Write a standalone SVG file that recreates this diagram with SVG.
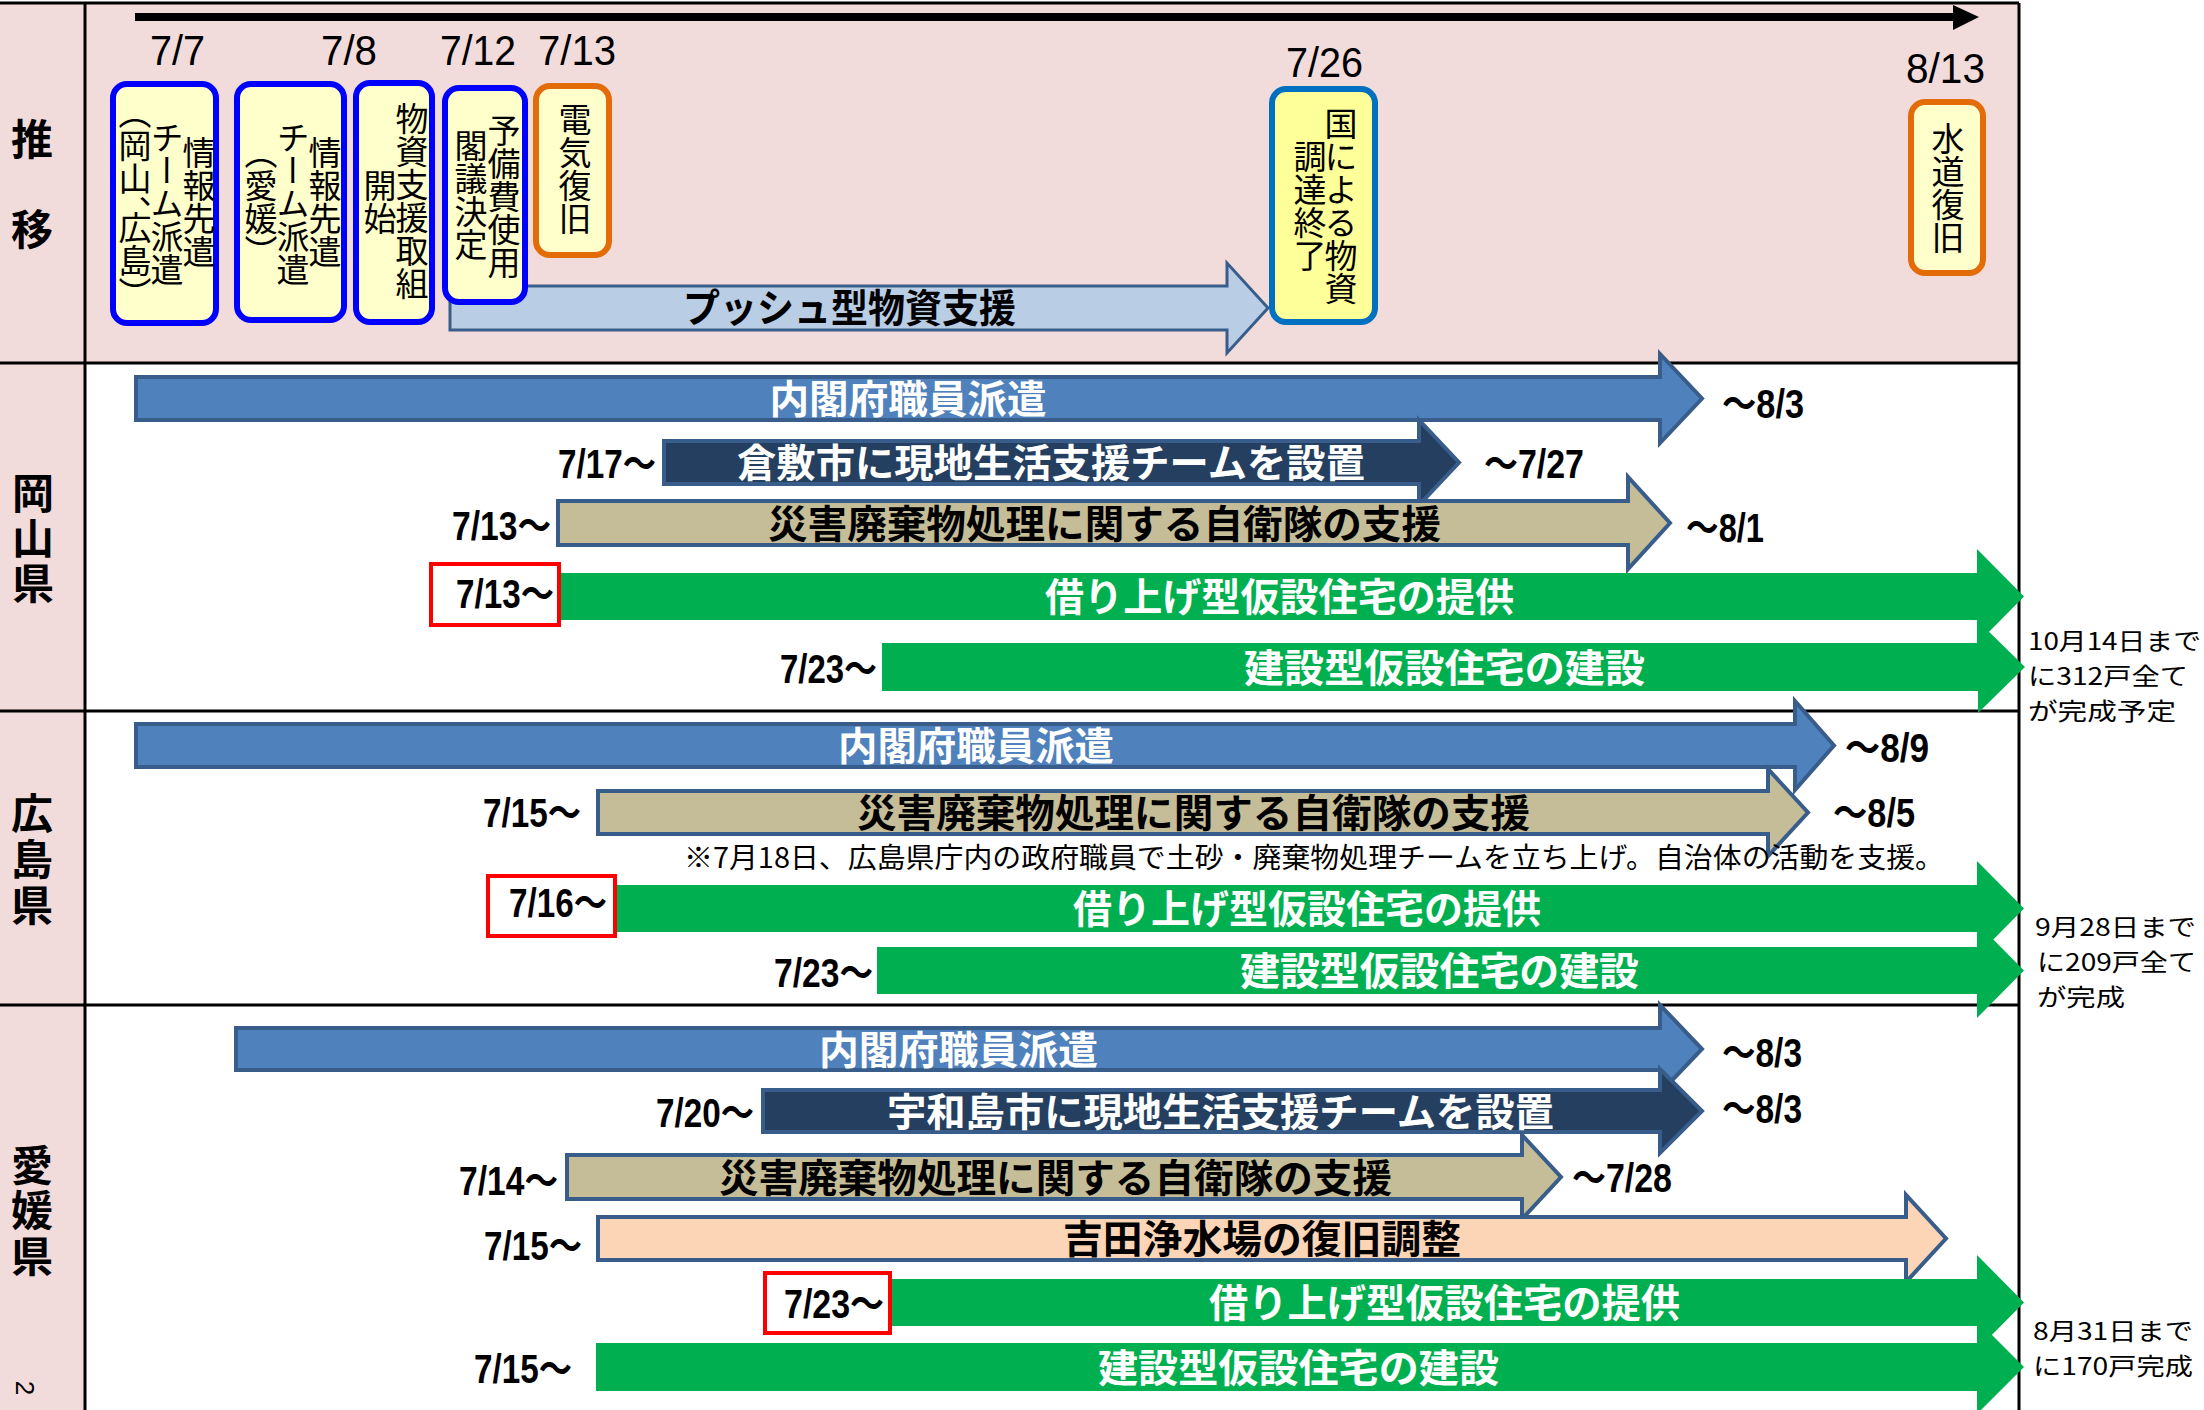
<svg xmlns="http://www.w3.org/2000/svg" width="2204" height="1410" viewBox="0 0 2204 1410">
<style>
.jp{font-family:"Noto Sans CJK JP","Noto Sans CJK SC",sans-serif}
.dt{font-family:"Liberation Sans Narrow","Liberation Sans","Noto Sans CJK JP",sans-serif}
.bd{font-family:"Liberation Sans Narrow","Liberation Sans","Noto Sans CJK JP",sans-serif;font-weight:bold;font-size:40px}
.line{stroke:#000;stroke-width:3;fill:none}
.vt{font-family:"Noto Sans CJK JP",sans-serif;font-size:33px;writing-mode:vertical-rl;text-anchor:middle}
.half{font-feature-settings:"vhal"}
.bx{fill:#FFFFCC;stroke:#0000FF;stroke-width:6}
.bxo{fill:#FFFFCC;stroke:#E36C09;stroke-width:6}
.bxc{fill:#FFFF99;stroke:#0070C0;stroke-width:6}
.ab{fill:#4F81BD;stroke:#385D8A;stroke-width:4}
.an{fill:#243F60;stroke:#385D8A;stroke-width:4}
.at{fill:#C4BD97;stroke:#385D8A;stroke-width:4}
.ap{fill:#FBD5B5;stroke:#385D8A;stroke-width:4}
.al{fill:#B9CDE5;stroke:#385D8A;stroke-width:3}
.ag{fill:#00B050}
.bt{font-family:"Noto Sans CJK JP",sans-serif;font-weight:bold;font-size:39px;text-anchor:middle}
.w{fill:#fff}
.k{fill:#000}
.red{fill:#fff;stroke:#FF0000;stroke-width:4}
.lab{font-family:"Noto Sans CJK JP",sans-serif;font-weight:bold;font-size:42px;writing-mode:vertical-rl;text-anchor:start}
.note{font-family:"Noto Sans CJK JP",sans-serif;font-size:24px}
</style>
<rect width="2204" height="1410" fill="#fff"/>
<g id="background">
<rect x="0" y="3" width="2019" height="360" fill="#F2DCDB"/>
<rect x="0" y="363" width="85" height="1047" fill="#F2DCDB"/>
<line class="line" x1="0" y1="3" x2="2019" y2="3"/>
<line class="line" x1="0" y1="363" x2="2019" y2="363"/>
<line class="line" x1="0" y1="711" x2="2019" y2="711"/>
<line class="line" x1="0" y1="1005" x2="2019" y2="1005"/>
<line class="line" x1="85" y1="3" x2="85" y2="1410"/>
<line class="line" x1="2019" y1="3" x2="2019" y2="1410"/>
</g>
<g id="row-labels">
<text class="lab" x="32" y="118" letter-spacing="48">推移</text>
<text class="lab" x="33" y="472" letter-spacing="3">岡山県</text>
<text class="lab" x="32" y="792" letter-spacing="4">広島県</text>
<text class="lab" x="32" y="1144" letter-spacing="3.5">愛媛県</text>
<text class="dt" font-size="26" text-anchor="middle" transform="translate(25,1388) rotate(90)" y="9">2</text>
</g>
<g id="connectors">
<line x1="135" y1="17" x2="1956" y2="17" stroke="#000" stroke-width="8"/>
<polygon points="1953,5 1979,17 1953,30" fill="#000"/>
</g>
<g id="timeline-dates" class="dt" font-size="42">
<text x="150" y="65" textLength="55" lengthAdjust="spacingAndGlyphs">7/7</text>
<text x="321" y="65" textLength="56" lengthAdjust="spacingAndGlyphs">7/8</text>
<text x="440" y="65" textLength="76" lengthAdjust="spacingAndGlyphs">7/12</text>
<text x="538" y="65" textLength="78" lengthAdjust="spacingAndGlyphs">7/13</text>
<text x="1286" y="77" textLength="77" lengthAdjust="spacingAndGlyphs">7/26</text>
<text x="1906" y="83" textLength="79" lengthAdjust="spacingAndGlyphs">8/13</text>
</g>
<g id="push-arrow">
<path class="al" d="M450,286 H1227 V263 L1268,308 L1227,353 V330 H450 Z"/>
<text class="bt k" x="849.5" y="322" font-size="37" textLength="333" lengthAdjust="spacingAndGlyphs">プッシュ型物資支援</text>
</g>
<g id="box-0707">
<rect class="bx" x="113" y="84" width="103" height="239" rx="14"/>
<text class="vt" x="199" y="202">情報先遣</text>
<text class="vt" x="167" y="203">チーム派遣</text>
<text class="vt half" x="135" y="203">（岡山、広島）</text>
</g>
<g id="box-0707b">
<rect class="bx" x="237" y="84" width="107" height="236" rx="14"/>
<text class="vt" x="325" y="202">情報先遣</text>
<text class="vt" x="293" y="203">チーム派遣</text>
<text class="vt half" x="261" y="202">（愛媛）</text>
</g>
<g id="box-0708">
<rect class="bx" x="356" y="83" width="76" height="239" rx="14"/>
<text class="vt" x="412" y="201">物資支援取組</text>
<text class="vt" x="380" y="202">開始</text>
</g>
<g id="box-0712">
<rect class="bx" x="445" y="88" width="80" height="214" rx="14"/>
<text class="vt" x="504" y="196">予備費使用</text>
<text class="vt" x="471" y="195">閣議決定</text>
</g>
<g id="box-0713">
<rect class="bxo" x="536" y="86" width="73" height="169" rx="14"/>
<text class="vt" x="575" y="169">電気復旧</text>
</g>
<g id="box-0726">
<rect class="bxc" x="1272" y="89" width="103" height="233" rx="14"/>
<text class="vt" x="1341" y="206">国による物資</text>
<text class="vt" x="1310" y="206">調達終了</text>
</g>
<g id="box-0813">
<rect class="bxo" x="1911" y="102" width="72" height="171" rx="14"/>
<text class="vt" x="1948" y="188">水道復旧</text>
</g>
<g id="okayama-naikakufu">
<path class="ab" d="M136,377 H1660 V354 L1702,398.5 L1660,443 V420 H136 Z"/>
<text class="bt w" x="908" y="413" textLength="277" lengthAdjust="spacingAndGlyphs">内閣府職員派遣</text>
<text class="bd" x="1722" y="418" textLength="82" lengthAdjust="spacingAndGlyphs">～8/3</text>
</g>
<g id="okayama-kurashiki">
<path class="an" d="M664,441 H1419 V420 L1459,462.5 L1419,505 V484 H664 Z"/>
<text class="bt w" x="1051" y="477" textLength="628" lengthAdjust="spacingAndGlyphs">倉敷市に現地生活支援チームを設置</text>
<text class="bd" x="558" y="478" textLength="98" lengthAdjust="spacingAndGlyphs">7/17～</text>
<text class="bd" x="1484" y="478" textLength="100" lengthAdjust="spacingAndGlyphs">～7/27</text>
</g>
<g id="okayama-saigai">
<path class="at" d="M558,501 H1628 V477 L1670,523 L1628,569 V545 H558 Z"/>
<text class="bt k" x="1104.5" y="538" textLength="673" lengthAdjust="spacingAndGlyphs">災害廃棄物処理に関する自衛隊の支援</text>
<text class="bd" x="452" y="540" textLength="99" lengthAdjust="spacingAndGlyphs">7/13～</text>
<text class="bd" x="1686" y="542" textLength="78" lengthAdjust="spacingAndGlyphs">～8/1</text>
</g>
<g id="okayama-kariage">
<path class="ag" d="M561,573 H1977 V549 L2024,596.5 L1977,644 V620 H561 Z"/>
<text class="bt w" x="1279.5" y="611" textLength="469" lengthAdjust="spacingAndGlyphs">借り上げ型仮設住宅の提供</text>
<rect class="red" x="431" y="564" width="128" height="61"/>
<text class="bd" x="456" y="608" textLength="98" lengthAdjust="spacingAndGlyphs">7/13～</text>
</g>
<g id="okayama-kensetsu">
<path class="ag" d="M882,643 H1978 V621 L2025,667 L1978,713 V691 H882 Z"/>
<text class="bt w" x="1444.5" y="682" textLength="401" lengthAdjust="spacingAndGlyphs">建設型仮設住宅の建設</text>
<text class="bd" x="780" y="683" textLength="97" lengthAdjust="spacingAndGlyphs">7/23～</text>
</g>
<g id="okayama-note" class="note">
<text x="2028" y="650" textLength="173" lengthAdjust="spacingAndGlyphs">10月14日まで</text>
<text x="2028" y="685" textLength="160" lengthAdjust="spacingAndGlyphs">に312戸全て</text>
<text x="2028" y="720" textLength="148" lengthAdjust="spacingAndGlyphs">が完成予定</text>
</g>
<g id="hiroshima-naikakufu">
<path class="ab" d="M136,724 H1795 V701 L1834,745.5 L1795,790 V767 H136 Z"/>
<text class="bt w" x="976" y="760" textLength="276" lengthAdjust="spacingAndGlyphs">内閣府職員派遣</text>
<text class="bd" x="1845" y="762" textLength="84" lengthAdjust="spacingAndGlyphs">～8/9</text>
</g>
<g id="hiroshima-saigai">
<path class="at" d="M598,791 H1768 V769 L1808,812.5 L1768,856 V834 H598 Z"/>
<text class="bt k" x="1193.5" y="827" textLength="673" lengthAdjust="spacingAndGlyphs">災害廃棄物処理に関する自衛隊の支援</text>
<text class="bd" x="483" y="827" textLength="98" lengthAdjust="spacingAndGlyphs">7/15～</text>
<text class="bd" x="1833" y="827" textLength="82" lengthAdjust="spacingAndGlyphs">～8/5</text>
</g>
<g id="hiroshima-note1">
<text x="684" y="868" font-family="Noto Sans CJK JP, sans-serif" font-size="28" textLength="1260" lengthAdjust="spacingAndGlyphs">※7月18日、広島県庁内の政府職員で土砂・廃棄物処理チームを立ち上げ。自治体の活動を支援。</text>
</g>
<g id="hiroshima-kariage">
<path class="ag" d="M617,885 H1977 V861 L2024,908.5 L1977,956 V932 H617 Z"/>
<text class="bt w" x="1307" y="923" textLength="468" lengthAdjust="spacingAndGlyphs">借り上げ型仮設住宅の提供</text>
<rect class="red" x="488" y="876" width="127" height="60"/>
<text class="bd" x="509" y="917" textLength="98" lengthAdjust="spacingAndGlyphs">7/16～</text>
</g>
<g id="hiroshima-kensetsu">
<path class="ag" d="M877,947 H1977 V923 L2024,970.5 L1977,1018 V994 H877 Z"/>
<text class="bt w" x="1439.5" y="985" textLength="399" lengthAdjust="spacingAndGlyphs">建設型仮設住宅の建設</text>
<text class="bd" x="774" y="987" textLength="99" lengthAdjust="spacingAndGlyphs">7/23～</text>
</g>
<g id="hiroshima-note" class="note">
<text x="2035" y="936" textLength="161" lengthAdjust="spacingAndGlyphs">9月28日まで</text>
<text x="2037" y="971" textLength="159" lengthAdjust="spacingAndGlyphs">に209戸全て</text>
<text x="2037" y="1006" textLength="88" lengthAdjust="spacingAndGlyphs">が完成</text>
</g>
<g id="ehime-naikakufu">
<path class="ab" d="M236,1028 H1660 V1005 L1702,1049 L1660,1093 V1070 H236 Z"/>
<text class="bt w" x="958.5" y="1064" textLength="279" lengthAdjust="spacingAndGlyphs">内閣府職員派遣</text>
<text class="bd" x="1722" y="1067" textLength="80" lengthAdjust="spacingAndGlyphs">～8/3</text>
</g>
<g id="ehime-uwajima">
<path class="an" d="M763,1090 H1660 V1069 L1702,1111 L1660,1153 V1132 H763 Z"/>
<text class="bt w" x="1220.5" y="1126" textLength="667" lengthAdjust="spacingAndGlyphs">宇和島市に現地生活支援チームを設置</text>
<text class="bd" x="656" y="1127" textLength="98" lengthAdjust="spacingAndGlyphs">7/20～</text>
<text class="bd" x="1722" y="1123" textLength="80" lengthAdjust="spacingAndGlyphs">～8/3</text>
</g>
<g id="ehime-saigai">
<path class="at" d="M567,1155 H1522 V1135 L1561,1177 L1522,1219 V1199 H567 Z"/>
<text class="bt k" x="1055.5" y="1192" textLength="673" lengthAdjust="spacingAndGlyphs">災害廃棄物処理に関する自衛隊の支援</text>
<text class="bd" x="459" y="1195" textLength="99" lengthAdjust="spacingAndGlyphs">7/14～</text>
<text class="bd" x="1572" y="1192" textLength="100" lengthAdjust="spacingAndGlyphs">～7/28</text>
</g>
<g id="ehime-yoshida">
<path class="ap" d="M598,1217 H1906 V1195 L1946,1238.5 L1906,1282 V1260 H598 Z"/>
<text class="bt k" x="1262" y="1253" textLength="398" lengthAdjust="spacingAndGlyphs">吉田浄水場の復旧調整</text>
<text class="bd" x="484" y="1260" textLength="98" lengthAdjust="spacingAndGlyphs">7/15～</text>
</g>
<g id="ehime-kariage">
<path class="ag" d="M892,1279 H1977 V1255 L2024,1302.5 L1977,1350 V1326 H892 Z"/>
<text class="bt w" x="1444.5" y="1317" textLength="471" lengthAdjust="spacingAndGlyphs">借り上げ型仮設住宅の提供</text>
<rect class="red" x="765" y="1273" width="125" height="60"/>
<text class="bd" x="784" y="1318" textLength="100" lengthAdjust="spacingAndGlyphs">7/23～</text>
</g>
<g id="ehime-kensetsu">
<path class="ag" d="M596,1343 H1977 V1320 L2024,1367 L1977,1414 V1391 H596 Z"/>
<text class="bt w" x="1298.5" y="1382" textLength="401" lengthAdjust="spacingAndGlyphs">建設型仮設住宅の建設</text>
<text class="bd" x="474" y="1383" textLength="98" lengthAdjust="spacingAndGlyphs">7/15～</text>
</g>
<g id="ehime-note" class="note">
<text x="2033" y="1340" textLength="160" lengthAdjust="spacingAndGlyphs">8月31日まで</text>
<text x="2033" y="1375" textLength="160" lengthAdjust="spacingAndGlyphs">に170戸完成</text>
</g>
</svg>
